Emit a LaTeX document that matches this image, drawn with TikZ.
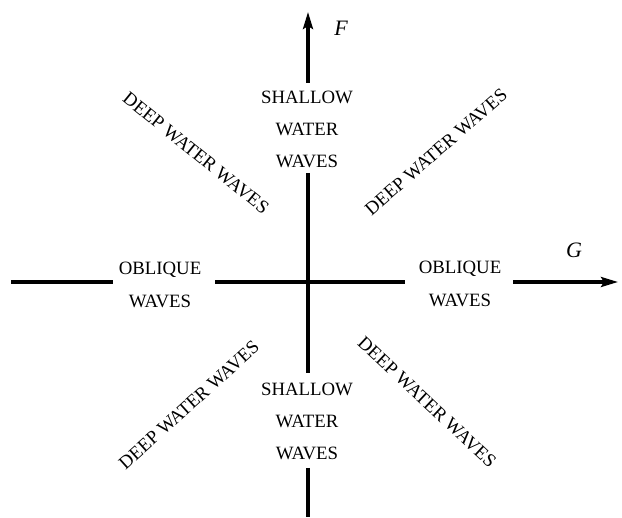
\documentclass[tikz,border=0pt]{standalone}
\usepackage{fontspec}
\setmainfont{Liberation Serif}
\usetikzlibrary{arrows.meta}
\begin{document}
\begin{tikzpicture}[x=0.5pt,y=-0.5pt,
  axis/.style={line width=1.6pt},
  axarrow/.style={axis,-{Stealth[length=8.5pt,width=5pt,inset=1.5pt]}},
  lbl/.style={font=\fontsize{9.4}{16}\selectfont,align=center,inner sep=0pt},
  obl/.style={font=\fontsize{9.4}{16.5}\selectfont,align=center,inner sep=0pt},
  deep/.style={font=\fontsize{9.4}{11}\selectfont,inner sep=0pt},
  var/.style={font=\fontsize{11}{13}\selectfont\itshape,inner sep=0pt}]
\useasboundingbox (0,0) rectangle (622,518);
% coordinates
\coordinate (O) at (308,282);
\coordinate (ttip) at (308,12);
\coordinate (tend) at (308,83);
\coordinate (tmid) at (308,173);
\coordinate (bmid) at (308,373);
\coordinate (bstart) at (308,468);
\coordinate (bend) at (308,517);
\coordinate (lstart) at (11,282);
\coordinate (lend) at (113,282);
\coordinate (lmid) at (215,282);
\coordinate (rmid) at (405,282);
\coordinate (rstart) at (513,282);
\coordinate (rtip) at (618,282);
% axes
\draw[axarrow] (tend) -- (ttip);
\draw[axis] (tmid) -- (O) -- (bmid);
\draw[axis] (bstart) -- (bend);
\draw[axis] (lstart) -- (lend);
\draw[axis] (lmid) -- (O) -- (rmid);
\draw[axarrow] (rstart) -- (rtip);
% labels
\node[var] (F) at (341,28) {F};
\node[var] (G) at (574,250) {G};
\node[lbl] (sT) at (307,129) {SHALLOW\\WATER\\WAVES};
\node[lbl] (sB) at (307,421) {SHALLOW\\WATER\\WAVES};
\node[obl] (oL) at (160,285) {OBLIQUE\\WAVES};
\node[obl] (oR) at (460,284) {OBLIQUE\\WAVES};
\node[deep,rotate=-39] (dUL) at (196,153) {DEEP WATER WAVES};
\node[deep,rotate=41] (dUR) at (436,152) {DEEP WATER WAVES};
\node[deep,rotate=42] (dLL) at (189,405) {DEEP WATER WAVES};
\node[deep,rotate=-43] (dLR) at (427,402) {DEEP WATER WAVES};
\end{tikzpicture}
\end{document}
